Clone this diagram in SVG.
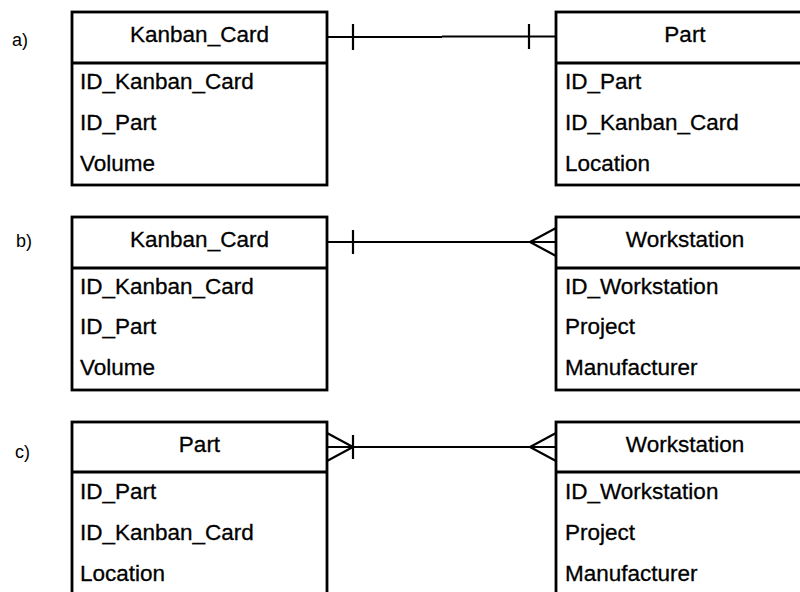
<svg xmlns="http://www.w3.org/2000/svg" width="800" height="592" viewBox="0 0 800 592">
<style>
.box{fill:#fff;stroke:#000;stroke-width:2.8}
.div{stroke:#000;stroke-width:2.8}
.t{font-family:"Liberation Sans",Arial,sans-serif;font-size:22.5px;fill:#000;stroke:#000;stroke-width:0.3}
.h{text-anchor:middle}
.lbl{font-family:"Liberation Sans",Arial,sans-serif;font-size:18px;fill:#000}
.c{stroke:#000;stroke-width:2.2;fill:none}
</style>
<rect width="800" height="592" fill="#fff"/>
<text class="lbl" x="12" y="46">a)</text>
<text class="lbl" x="16" y="247">b)</text>
<text class="lbl" x="15" y="458">c)</text>
<g id="a_kanban">
<rect class="box" x="72" y="12" width="255" height="173"/>
<line class="div" x1="72" y1="63" x2="327" y2="63"/>
<text class="t h" x="199.5" y="42">Kanban_Card</text>
<text class="t" x="80" y="89">ID_Kanban_Card</text>
<text class="t" x="80" y="130">ID_Part</text>
<text class="t" x="80" y="171">Volume</text>
</g>
<g id="a_part">
<rect class="box" x="556" y="12" width="258" height="173"/>
<line class="div" x1="556" y1="63" x2="814" y2="63"/>
<text class="t h" x="685" y="42">Part</text>
<text class="t" x="565" y="89">ID_Part</text>
<text class="t" x="565" y="130">ID_Kanban_Card</text>
<text class="t" x="565" y="171">Location</text>
</g>
<g id="b_kanban">
<rect class="box" x="72" y="217" width="255" height="173"/>
<line class="div" x1="72" y1="268" x2="327" y2="268"/>
<text class="t h" x="199.5" y="247">Kanban_Card</text>
<text class="t" x="80" y="294">ID_Kanban_Card</text>
<text class="t" x="80" y="334">ID_Part</text>
<text class="t" x="80" y="375">Volume</text>
</g>
<g id="b_workstation">
<rect class="box" x="556" y="217" width="258" height="173"/>
<line class="div" x1="556" y1="268" x2="814" y2="268"/>
<text class="t h" x="685" y="247">Workstation</text>
<text class="t" x="565" y="294">ID_Workstation</text>
<text class="t" x="565" y="334">Project</text>
<text class="t" x="565" y="375">Manufacturer</text>
</g>
<g id="c_part">
<rect class="box" x="72" y="422" width="255" height="173"/>
<line class="div" x1="72" y1="472" x2="327" y2="472"/>
<text class="t h" x="199.5" y="452">Part</text>
<text class="t" x="80" y="499">ID_Part</text>
<text class="t" x="80" y="540">ID_Kanban_Card</text>
<text class="t" x="80" y="581">Location</text>
</g>
<g id="c_workstation">
<rect class="box" x="556" y="422" width="258" height="173"/>
<line class="div" x1="556" y1="472" x2="814" y2="472"/>
<text class="t h" x="685" y="452">Workstation</text>
<text class="t" x="565" y="499">ID_Workstation</text>
<text class="t" x="565" y="540">Project</text>
<text class="t" x="565" y="581">Manufacturer</text>
</g>
<g id="connectors">
<line class="c" x1="327" y1="37" x2="442" y2="37"/>
<line class="c" x1="442" y1="36.5" x2="556" y2="36.5" stroke-width="3.2"/>
<line class="c" x1="353" y1="24" x2="353" y2="50"/>
<line class="c" x1="529" y1="24" x2="529" y2="49"/>
<line class="c" x1="327" y1="242" x2="556" y2="242"/>
<line class="c" x1="353" y1="230" x2="353" y2="254"/>
<polyline class="c" points="556,228 530,242 556,256"/>
<line class="c" x1="327" y1="447" x2="556" y2="447"/>
<line class="c" x1="353" y1="435" x2="353" y2="459"/>
<polyline class="c" points="327,433 353,447 327,461"/>
<polyline class="c" points="556,433 530,447 556,461"/>
</g>
</svg>
